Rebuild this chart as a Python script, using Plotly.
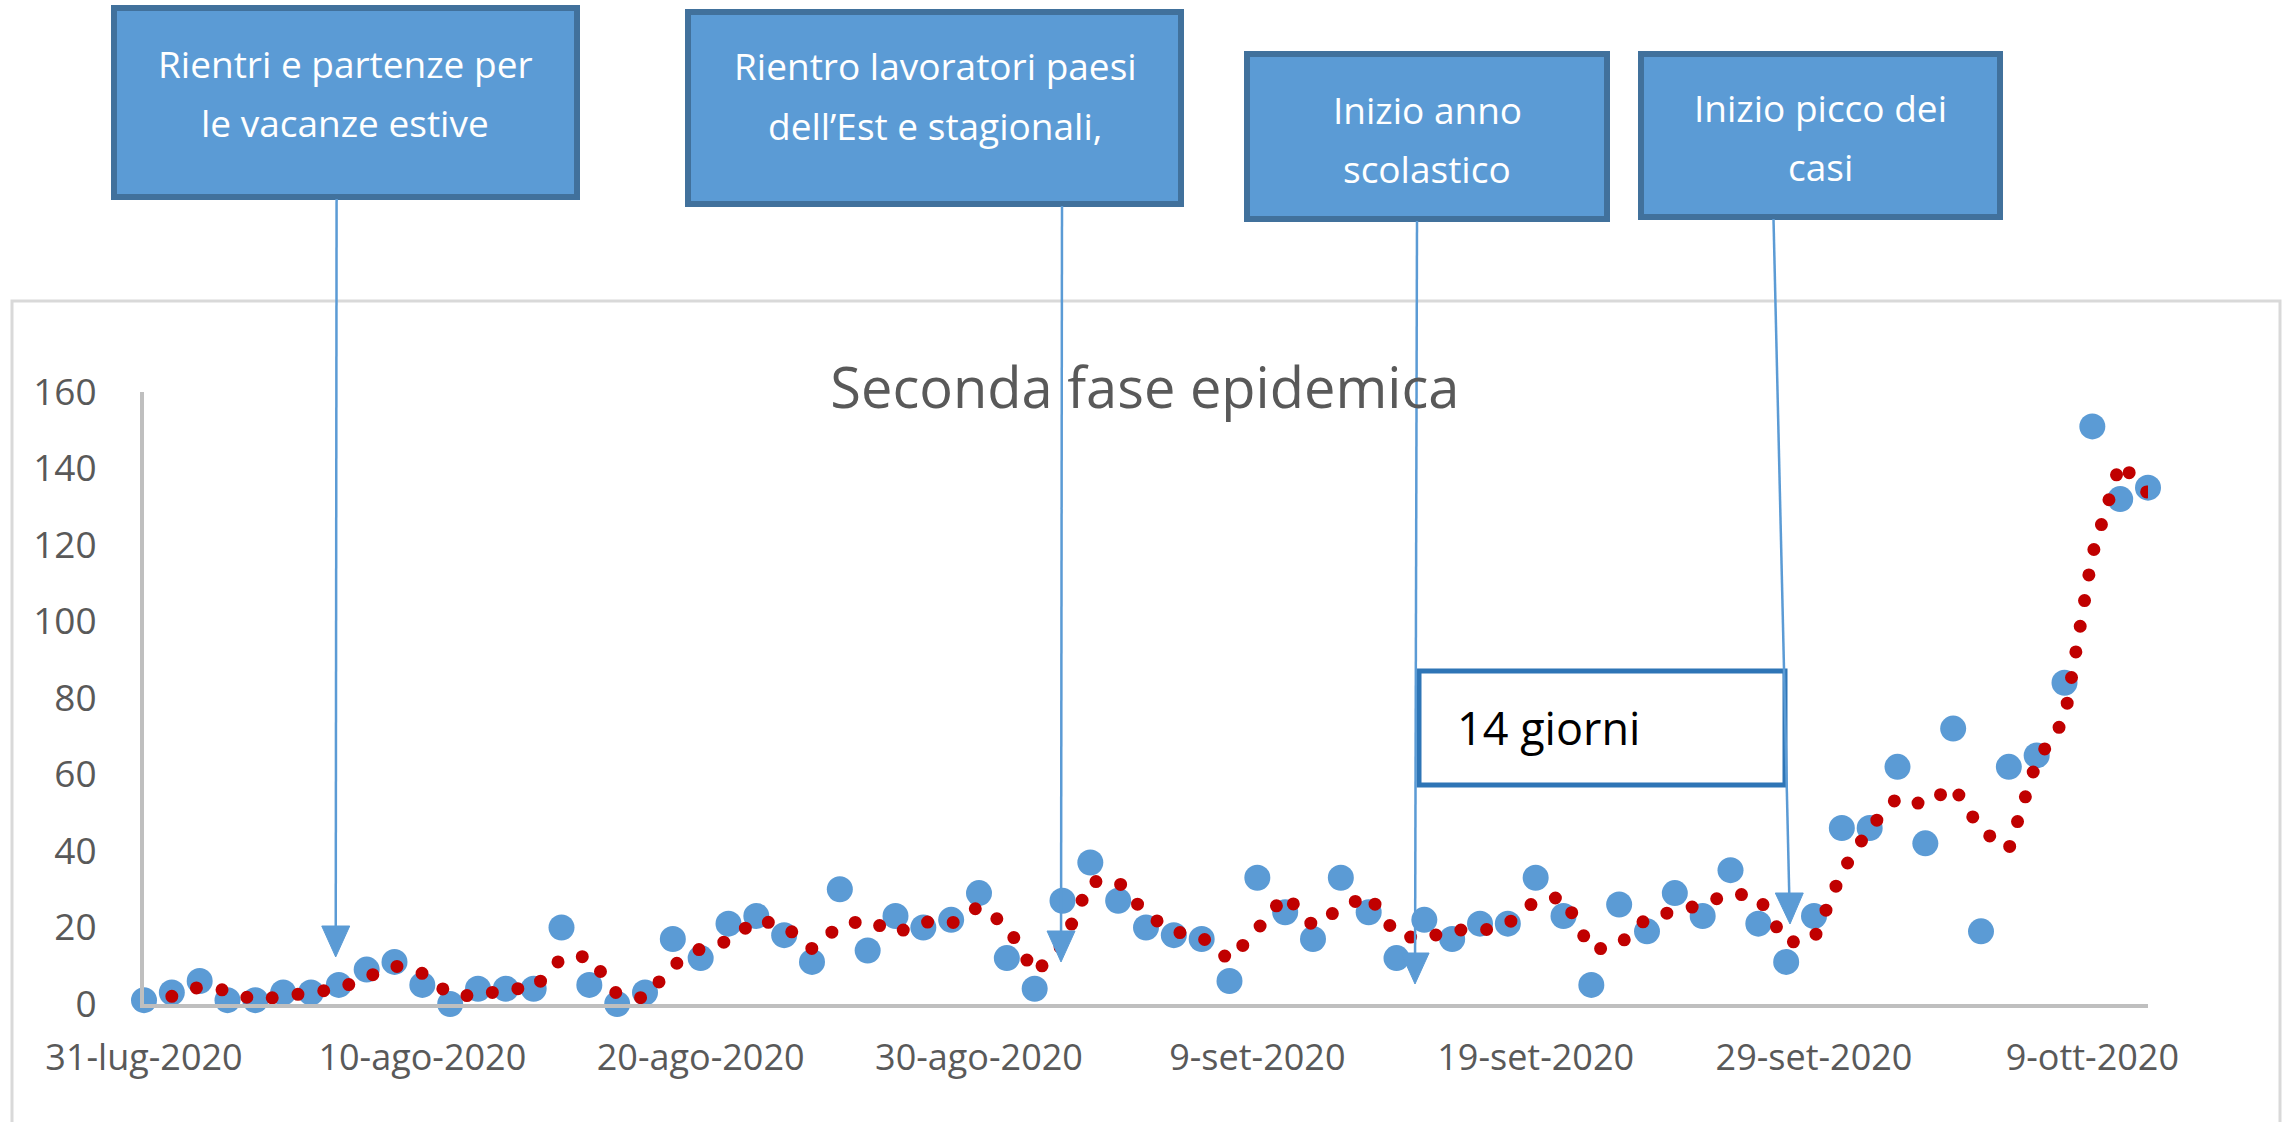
import plotly.graph_objects as go
import pandas as pd

# ---------------- data ----------------
start_date = "2020-07-31"
n_days = 73
dates = pd.date_range(start_date, periods=n_days).strftime("%Y-%m-%d").tolist()

# daily new cases (blue points)
cases = [1, 3, 6, 1, 1, 3, 3, 5, 9, 11,
         5, 0, 4, 4, 4, 20, 5, 0, 3, 17,
         12, 21, 23, 18, 11, 30, 14, 23, 20, 22,
         29, 12, 4, 27, 37, 27, 20, 18, 17, 6,
         33, 24, 17, 33, 24, 12, 22, 17, 21, 21,
         33, 23, 5, 26, 19, 29, 23, 35, 21, 11,
         23, 46, 46, 62, 42, 72, 19, 62, 65, 84,
         151, 132, 135]

# 2-day moving-average trendline (red dotted line), starts on the 2nd day
trend = [None, 2, 4.5, 3.5, 1, 2, 3, 4, 7, 10,
         8, 2.5, 2, 4, 4, 12, 12.5, 2.5, 1.5, 10,
         14.5, 16.5, 22, 20.5, 14.5, 20.5, 22, 18.5, 21.5, 21,
         25.5, 20.5, 8, 15.5, 32, 32, 23.5, 19, 17.5, 11.5,
         19.5, 28.5, 20.5, 25, 28.5, 18, 17, 19.5, 19, 21,
         27, 28, 14, 15.5, 22.5, 24, 26, 29, 28, 16,
         17, 34.5, 46, 54, 52, 57, 45.5, 40.5, 63.5, 74.5,
         117.5, 141.5, 133.5]

x_tick_vals = ["2020-07-31", "2020-08-10", "2020-08-20", "2020-08-30",
               "2020-09-09", "2020-09-19", "2020-09-29", "2020-10-09"]
x_tick_text = ["31-lug-2020", "10-ago-2020", "20-ago-2020", "30-ago-2020",
               "9-set-2020", "19-set-2020", "29-set-2020", "9-ott-2020"]
y_tick_vals = [0, 20, 40, 60, 80, 100, 120, 140, 160]

title_text = "Seconda fase epidemica"
callouts = [
    ["Rientri e partenze per", "le vacanze estive"],
    ["Rientro lavoratori paesi", "dell\u2019Est e stagionali,"],
    ["Inizio anno", "scolastico"],
    ["Inizio picco dei", "casi"],
]
span_label = "14 giorni"

# ---------------- layout geometry (pixels) ----------------
W, H = 2292, 1122
L, R, T, B = 144, 144, 392, 118
PW = W - L - R
PH = H - T - B


def px(x):
    return (x - L) / PW


def py(y):
    return (H - B - y) / PH


FONT = "Open Sans"
GREY = "#595959"
BLUE = "#5B9BD5"
BLUE_DARK = "#41719C"
RED = "#C00000"

fig = go.Figure()
fig.add_trace(go.Scatter(
    x=dates, y=cases, mode="markers",
    marker=dict(color=BLUE, size=26, line=dict(width=0)),
    cliponaxis=False, hoverinfo="x+y", name="casi"))
fig.add_trace(go.Scatter(
    x=dates, y=trend, mode="lines",
    line=dict(color=RED, width=13, dash="dot"),
    cliponaxis=False, hoverinfo="skip", name="media mobile"))

shapes = []
annotations = []

# chart area border
shapes.append(dict(type="rect", xref="paper", yref="paper",
                   x0=px(12), x1=px(2280), y0=py(1135), y1=py(301),
                   line=dict(color="#D9D9D9", width=3), layer="below"))

# callout boxes: (x0, x1, y0, y1) in pixels, text line centres
boxes = [
    (114, 577, 8, 197, 345, [64, 122]),
    (688, 1181, 12, 204, 935, [66, 125]),
    (1247, 1607, 54, 219, 1427, [109, 169]),
    (1641, 2000, 54, 217, 1820, [107, 166]),
]
for (x0, x1, y0, y1, cx, lines_y), texts in zip(boxes, callouts):
    shapes.append(dict(type="rect", xref="paper", yref="paper",
                       x0=px(x0), x1=px(x1), y0=py(y1), y1=py(y0),
                       fillcolor=BLUE, line=dict(color=BLUE_DARK, width=6),
                       layer="above"))
    for t, ly in zip(texts, lines_y):
        annotations.append(dict(xref="paper", yref="paper", x=px(cx), y=py(ly),
                                text=t, showarrow=False, xanchor="center",
                                yanchor="middle",
                                font=dict(family=FONT, size=37, color="white")))

# 14 giorni box
shapes.append(dict(type="rect", xref="paper", yref="paper",
                   x0=px(1419), x1=px(1785), y0=py(785), y1=py(671),
                   fillcolor="white", line=dict(color="#2E75B6", width=5),
                   layer="above"))
annotations.append(dict(xref="paper", yref="paper", x=px(1455), y=py(727),
                        text=span_label, showarrow=False, xanchor="left",
                        yanchor="middle",
                        font=dict(family=FONT, size=45, color="black")))

# arrows: (top x, top y, tip x, tip y)
arrows = [
    (336.6, 199, 335.7, 957),
    (1062, 206, 1061, 962),
    (1417, 221, 1415, 984),
    (1773.5, 219, 1790, 924),
]
for (tx, ty, hx, hy) in arrows:
    base_y = hy - 31
    base_x = tx + (hx - tx) * (base_y - ty) / (hy - ty)
    shapes.append(dict(type="line", xref="paper", yref="paper",
                       x0=px(tx), y0=py(ty), x1=px(base_x), y1=py(base_y + 2),
                       line=dict(color=BLUE, width=2.5), layer="above"))
    path = "M {a},{b} L {c},{d} L {e},{f} Z".format(
        a=px(base_x - 14), b=py(base_y), c=px(base_x + 14), d=py(base_y),
        e=px(hx), f=py(hy))
    shapes.append(dict(type="path", xref="paper", yref="paper", path=path,
                       fillcolor=BLUE, line=dict(color=BLUE, width=1),
                       layer="above"))

fig.update_layout(
    width=W, height=H,
    margin=dict(l=L, r=R, t=T, b=B, pad=0),
    paper_bgcolor="white", plot_bgcolor="white",
    showlegend=False,
    font=dict(family=FONT, color=GREY),
    title=dict(text=title_text, x=px(1145), xanchor="center",
               y=1 - 388 / H, yanchor="middle", yref="container",
               font=dict(family=FONT, size=56, color=GREY)),
    xaxis=dict(type="date", range=[dates[0], dates[-1]],
               tickmode="array", tickvals=x_tick_vals, ticktext=x_tick_text,
               showline=True, linecolor="#BFBFBF", linewidth=4,
               showgrid=False, zeroline=False,
               ticks="outside", ticklen=19, tickcolor="rgba(0,0,0,0)",
               tickfont=dict(family=FONT, size=36, color=GREY)),
    yaxis=dict(range=[0, 160], tickmode="array", tickvals=y_tick_vals,
               showline=True, linecolor="#BFBFBF", linewidth=4,
               showgrid=False, zeroline=False,
               ticks="outside", ticklen=36, tickcolor="rgba(0,0,0,0)",
               tickfont=dict(family=FONT, size=37, color=GREY)),
    shapes=shapes,
    annotations=annotations,
)

post = """
document.body.style.margin = '0';
document.body.style.overflow = 'hidden';
function roundDots() {
  document.querySelectorAll('.scatterlayer .trace path.js-line').forEach(function (p) {
    p.style.strokeLinecap = 'round';
    p.style.strokeDasharray = '0 26px';
  });
}
roundDots();
var gd = document.getElementById('{plot_id}');
if (gd && gd.on) { gd.on('plotly_afterplot', roundDots); }
"""

fig.write_html("out.html", post_script=post, config={"displayModeBar": False})
